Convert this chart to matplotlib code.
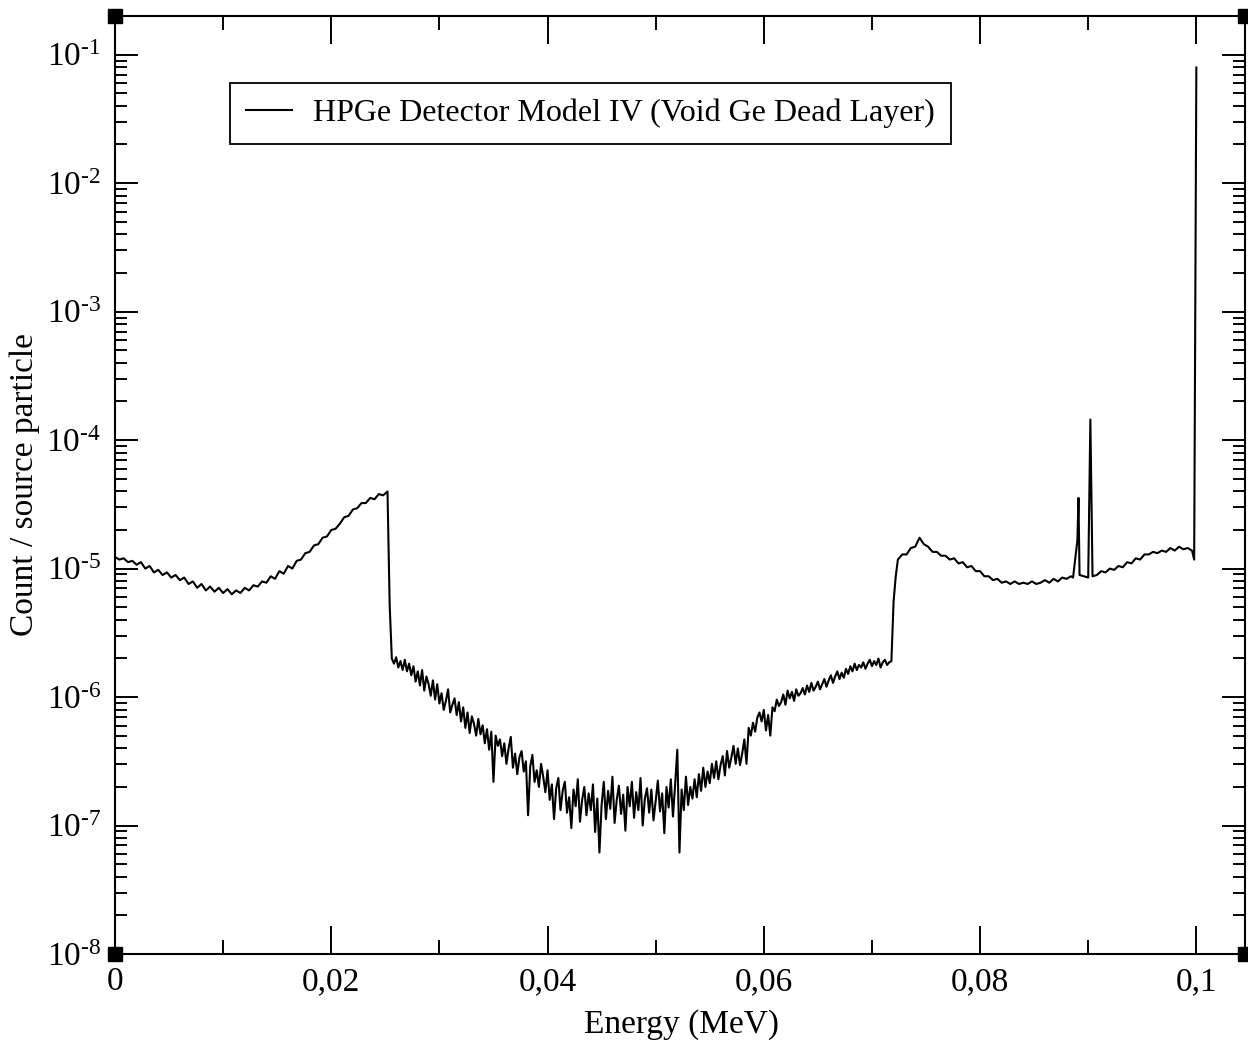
import numpy as np
import matplotlib
matplotlib.use('Agg')
import matplotlib.pyplot as plt
from matplotlib.ticker import FixedLocator, FixedFormatter, LogLocator, NullFormatter

plt.rcParams['font.family'] = ['Liberation Serif', 'DejaVu Serif']
plt.rcParams['mathtext.fontset'] = 'custom'
plt.rcParams['mathtext.rm'] = 'Liberation Serif'
plt.rcParams['mathtext.it'] = 'Liberation Serif:italic'

# ---------------- data (log10 of count / source particle) ----------------
energy_a = np.linspace(0.0, 0.0252, 64)
log_count_a = [-4.91, -4.93, -4.92, -4.95, -4.94, -4.97, -4.95, -5.00, -4.98, -5.03,
               -5.01, -5.05, -5.03, -5.07, -5.05, -5.09, -5.07, -5.12, -5.10, -5.15,
               -5.12, -5.17, -5.14, -5.18, -5.15, -5.19, -5.16, -5.20, -5.17, -5.19,
               -5.15, -5.17, -5.13, -5.14, -5.10, -5.11, -5.06, -5.08, -5.02, -5.04,
               -4.98, -5.00, -4.94, -4.93, -4.88, -4.87, -4.82, -4.81, -4.76, -4.75,
               -4.70, -4.69, -4.65, -4.60, -4.59, -4.54, -4.53, -4.49, -4.49, -4.45,
               -4.46, -4.42, -4.43, -4.40]

energy_edge1 = [0.0254]
log_count_edge1 = [-5.28]

energy_b = np.linspace(0.0256, 0.0716, 231)
log_count_b = [-5.70, -5.74, -5.69, -5.77, -5.72, -5.79, -5.71, -5.80, -5.74, -5.83,
               -5.76, -5.88, -5.80, -5.91, -5.79, -5.95, -5.84, -5.90, -5.99, -5.87,
               -6.02, -5.90, -6.05, -5.97, -6.10, -6.03, -5.94, -6.12, -6.06, -6.01,
               -6.14, -6.04, -6.19, -6.08, -6.24, -6.12, -6.28, -6.15, -6.21, -6.30,
               -6.17, -6.29, -6.22, -6.36, -6.25, -6.41, -6.27, -6.66, -6.30, -6.38,
               -6.33, -6.46, -6.36, -6.52, -6.40, -6.31, -6.55, -6.44, -6.60, -6.47,
               -6.42, -6.58, -6.50, -6.92, -6.54, -6.45, -6.66, -6.57, -6.70, -6.52,
               -6.62, -6.74, -6.57, -6.80, -6.68, -6.95, -6.71, -6.63, -6.88, -6.73,
               -6.66, -6.90, -6.78, -7.02, -6.72, -6.85, -6.64, -6.97, -6.80, -6.70,
               -6.92, -6.75, -6.88, -6.68, -7.05, -6.79, -7.21, -6.84, -6.66, -6.95,
               -6.73, -6.87, -6.62, -6.98, -6.80, -6.69, -6.91, -6.76, -7.04, -6.70,
               -6.85, -6.66, -6.94, -6.74, -6.88, -6.63, -7.00, -6.79, -6.71, -6.90,
               -6.72, -6.96, -6.81, -6.65, -6.89, -6.75, -7.06, -6.70, -6.86, -6.64,
               -6.93, -6.68, -6.41, -7.21, -6.72, -6.88, -6.62, -6.84, -6.70, -6.79,
               -6.64, -6.78, -6.60, -6.73, -6.55, -6.70, -6.58, -6.67, -6.52, -6.63,
               -6.50, -6.64, -6.53, -6.46, -6.61, -6.42, -6.55, -6.47, -6.38, -6.52,
               -6.40, -6.53, -6.44, -6.33, -6.52, -6.24, -6.30, -6.20, -6.27, -6.16,
               -6.12, -6.19, -6.10, -6.26, -6.14, -6.30, -6.08, -6.11, -6.02, -6.07,
               -6.04, -5.98, -6.06, -5.95, -6.01, -5.96, -6.03, -5.94, -5.99, -5.97,
               -5.93, -5.98, -5.91, -5.96, -5.89, -5.95, -5.92, -5.88, -5.94, -5.90,
               -5.86, -5.92, -5.87, -5.83, -5.89, -5.84, -5.80, -5.86, -5.81, -5.85,
               -5.78, -5.82, -5.76, -5.80, -5.74, -5.79, -5.75, -5.77, -5.73, -5.78,
               -5.74, -5.71, -5.76, -5.72, -5.75, -5.70, -5.77, -5.73, -5.71, -5.75,
               -5.73]

energy_edge2 = [0.0718, 0.0720, 0.0722]
log_count_edge2 = [-5.72, -5.26, -5.06]

energy_c = np.linspace(0.0724, 0.0884, 41)
log_count_c = [-4.93, -4.89, -4.89, -4.84, -4.83, -4.76, -4.81, -4.83, -4.87, -4.87,
               -4.90, -4.90, -4.93, -4.92, -4.96, -4.95, -4.99, -4.98, -5.02, -5.02,
               -5.06, -5.06, -5.09, -5.08, -5.11, -5.10, -5.12, -5.10, -5.12, -5.11,
               -5.12, -5.10, -5.12, -5.11, -5.09, -5.11, -5.08, -5.10, -5.07, -5.08,
               -5.06]

energy_lines = [0.0886, 0.0890, 0.0891, 0.0892, 0.0896, 0.0900, 0.0901, 0.0902, 0.0903, 0.0904]
log_count_lines = [-5.07, -4.78, -4.45, -5.05, -5.06, -5.07, -4.45, -3.84, -4.45, -5.06]

energy_d = np.linspace(0.0908, 0.0996, 23)
log_count_d = [-5.05, -5.02, -5.03, -5.00, -5.01, -4.98, -4.99, -4.95, -4.96, -4.92,
               -4.93, -4.89, -4.89, -4.87, -4.88, -4.86, -4.87, -4.84, -4.86, -4.83,
               -4.85, -4.84, -4.86]

energy_peak = [0.0998, 0.1000]
log_count_peak = [-4.93, -1.10]

series_label = 'HPGe Detector Model IV (Void Ge Dead Layer)'
x_tick_values = [0.0, 0.02, 0.04, 0.06, 0.08, 0.1]
x_tick_labels = ['0', '0,02', '0,04', '0,06', '0,08', '0,1']
x_minor_values = [0.01, 0.03, 0.05, 0.07, 0.09]
y_exponents = [-8, -7, -6, -5, -4, -3, -2, -1]
x_label = 'Energy (MeV)'
y_label = 'Count / source particle'

# ---------------- assemble ----------------
energy = np.concatenate([energy_a, energy_edge1, energy_b, energy_edge2,
                         energy_c, energy_lines, energy_d, energy_peak])
counts = 10.0 ** np.concatenate([log_count_a, log_count_edge1, log_count_b,
                                 log_count_edge2, log_count_c, log_count_lines,
                                 log_count_d, log_count_peak])

W, H = 1248, 1043
fig = plt.figure(figsize=(W / 100, H / 100), dpi=100)
L, R, T, B = 115, 1245, 16, 954
ax = fig.add_axes([L / W, 1 - B / H, (R - L) / W, (B - T) / H])

ax.plot(energy, counts, color='black', lw=1.5, label=series_label)

ax.set_yscale('log')
XMAX, YMIN, YMAX = 0.1045, 1e-8, 0.2
ax.set_xlim(0, XMAX)
ax.set_ylim(YMIN, YMAX)

ax.xaxis.set_major_locator(FixedLocator(x_tick_values))
ax.xaxis.set_major_formatter(FixedFormatter(x_tick_labels))
ax.xaxis.set_minor_locator(FixedLocator(x_minor_values))

y_major = [10.0 ** e for e in y_exponents]
ax.yaxis.set_major_locator(FixedLocator(y_major))
ax.yaxis.set_major_formatter(FixedFormatter(
    [r'$\mathregular{10^{\text{-}%d}}$' % abs(e) for e in y_exponents]))
ax.yaxis.set_minor_locator(LogLocator(base=10, subs=np.arange(2, 10), numticks=20))
ax.yaxis.set_minor_formatter(NullFormatter())

for s in ax.spines.values():
    s.set_linewidth(1.5)

ax.tick_params(which='both', direction='in', top=True, right=True, width=1.4, colors='black')
ax.tick_params(axis='x', which='major', length=20, pad=9, labelsize=24)
ax.tick_params(axis='x', which='minor', length=10)
ax.tick_params(axis='y', which='major', length=16.5, pad=10, labelsize=24)
ax.tick_params(axis='y', which='minor', length=8.5)

# corner markers
ax.plot([0, 0, XMAX, XMAX], [YMIN, YMAX, YMIN, YMAX], 's', ms=10.5, color='black',
        clip_on=False, zorder=6)

leg = ax.legend(loc='upper left', bbox_to_anchor=(0.1018, 0.9286), borderaxespad=0,
                fancybox=False, framealpha=1, edgecolor='black', fontsize=23,
                handlelength=1.45, handletextpad=0.65, borderpad=0.5)
leg.get_frame().set_linewidth(1.3)

fig.text(682 / W, 1 - 1025 / H, x_label, ha='center', va='center', fontsize=24)
fig.text(25 / W, 1 - 485 / H, y_label, ha='center', va='center', rotation=90, fontsize=24)

fig.savefig('out.png', dpi=100)
